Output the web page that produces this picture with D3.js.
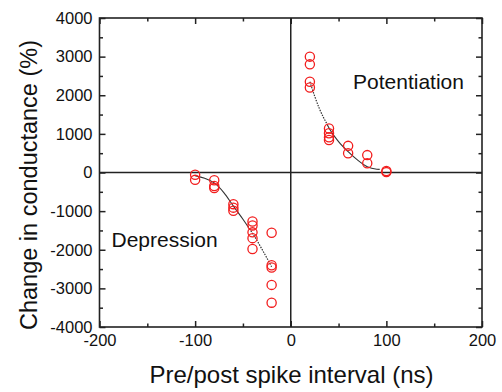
<!DOCTYPE html>
<html><head><meta charset="utf-8">
<script src="https://cdn.jsdelivr.net/npm/d3@7"></script>
<style>
body{margin:0;background:#fff;}
text{font-family:"Liberation Sans",Arial,sans-serif;fill:#111;}
</style></head>
<body><svg id="c" width="502" height="392"></svg>
<script>
// Data
const depX = [-100,-100,-80,-80,-80,-60,-60,-60,-40,-40,-40,-40,-40,-20,-20,-20,-20,-20];
const depY = [-60,-190,-200,-350,-400,-820,-910,-990,-1270,-1370,-1550,-1700,-1980,-1560,-2400,-2460,-2910,-3370];
const potX = [20,20,20,20,40,40,40,40,60,60,80,80,100,100];
const potY = [3000,2800,2350,2200,1140,1015,910,840,690,500,450,240,40,10];
const depFitX = [-100,-90,-80,-70,-60,-50,-45,-40,-30,-20];
const depFitY = [-80,-150,-270,-520,-870,-1210,-1390,-1570,-1990,-2440];
const potFitX = [20,30,38,40,50,60,70,80,90,93];
const potFitY = [2350,1650,1250,1150,800,540,320,150,85,80];
const xTicks = [-200,-100,0,100,200];
const yTicks = [-4000,-3000,-2000,-1000,0,1000,2000,3000,4000];
const xMinor = [-150,-50,50,150];
const yMinor = [-3500,-2500,-1500,-500,500,1500,2500,3500];
const xTitle = "Pre/post spike interval (ns)";
const yTitle = "Change in conductance (%)";

const L=99.5,R=482,T=18,B=327;
const x=d3.scaleLinear().domain([-200,200]).range([L,R]);
const y=d3.scaleLinear().domain([-4000,4000]).range([B,T]);
const svg=d3.select("#c");
const ink="#222";
const fmt=d=>String(d);

function styleAxis(g){g.select(".domain").remove();g.selectAll("line").attr("stroke",ink).attr("stroke-width",1.5);g.selectAll("text").attr("font-size",16.5).attr("fill","#111").attr("font-family","Liberation Sans, Arial, sans-serif");}

// axes
svg.append("g").attr("transform",`translate(0,${B})`).call(d3.axisBottom(x).tickValues(xTicks).tickSize(-6).tickPadding(7).tickFormat(fmt)).call(styleAxis);
svg.append("g").attr("transform",`translate(0,${B})`).call(d3.axisBottom(x).tickValues(xMinor).tickSize(-3.5).tickFormat("")).call(styleAxis);
svg.append("g").attr("transform",`translate(0,${T})`).call(d3.axisTop(x).tickValues(xTicks).tickSize(-6).tickFormat("")).call(styleAxis);
svg.append("g").attr("transform",`translate(0,${T})`).call(d3.axisTop(x).tickValues(xMinor).tickSize(-3.5).tickFormat("")).call(styleAxis);
svg.append("g").attr("transform",`translate(${L},0)`).call(d3.axisLeft(y).tickValues(yTicks).tickSize(-6).tickPadding(7).tickFormat(fmt)).call(styleAxis);
svg.append("g").attr("transform",`translate(${L},0)`).call(d3.axisLeft(y).tickValues(yMinor).tickSize(-3.5).tickFormat("")).call(styleAxis);
svg.append("g").attr("transform",`translate(${R},0)`).call(d3.axisRight(y).tickValues(yTicks).tickSize(-6).tickFormat("")).call(styleAxis);
svg.append("g").attr("transform",`translate(${R},0)`).call(d3.axisRight(y).tickValues(yMinor).tickSize(-3.5).tickFormat("")).call(styleAxis);

// frame
svg.append("rect").attr("x",L).attr("y",T).attr("width",R-L).attr("height",B-T).attr("fill","none").attr("stroke",ink).attr("stroke-width",1.6);
// zero lines
svg.append("line").attr("x1",L).attr("x2",R).attr("y1",y(0)).attr("y2",y(0)).attr("stroke",ink).attr("stroke-width",1.5);
svg.append("line").attr("x1",x(0)).attr("x2",x(0)).attr("y1",T).attr("y2",B).attr("stroke",ink).attr("stroke-width",1.5);

// fits
const line=d3.line().x(d=>x(d[0])).y(d=>y(d[1])).curve(d3.curveMonotoneX);
const dep=depFitX.map((v,i)=>[v,depFitY[i]]);
const pot=potFitX.map((v,i)=>[v,potFitY[i]]);
svg.append("path").attr("d",line(dep.filter(d=>d[0]<=-45))).attr("fill","none").attr("stroke","#333").attr("stroke-width",1.1);
svg.append("path").attr("d",line(dep.filter(d=>d[0]>=-45))).attr("fill","none").attr("stroke","#333").attr("stroke-width",1.2).attr("stroke-dasharray","1.5,1.2");
svg.append("path").attr("d",line(pot.filter(d=>d[0]<=38))).attr("fill","none").attr("stroke","#333").attr("stroke-width",1.2).attr("stroke-dasharray","1.5,1.2");
svg.append("path").attr("d",line(pot.filter(d=>d[0]>=38))).attr("fill","none").attr("stroke","#333").attr("stroke-width",1.1);

// points
const pts=depX.map((v,i)=>[v,depY[i]]).concat(potX.map((v,i)=>[v,potY[i]]));
svg.append("g").selectAll("circle").data(pts).join("circle")
 .attr("cx",d=>x(d[0])).attr("cy",d=>y(d[1])).attr("r",4.6)
 .attr("fill","none").attr("stroke","#f21d1d").attr("stroke-width",1.3);

// annotations
svg.append("text").attr("x",353).attr("y",89).attr("font-size",21).text("Potentiation");
svg.append("text").attr("x",111.5).attr("y",247).attr("font-size",21).text("Depression");

// titles
svg.append("text").attr("x",291.5).attr("y",383).attr("text-anchor","middle").attr("font-size",24).text(xTitle);
svg.append("text").attr("transform",`translate(37,185) rotate(-90)`).attr("text-anchor","middle").attr("font-size",23.5).text(yTitle);
</script></body></html>
